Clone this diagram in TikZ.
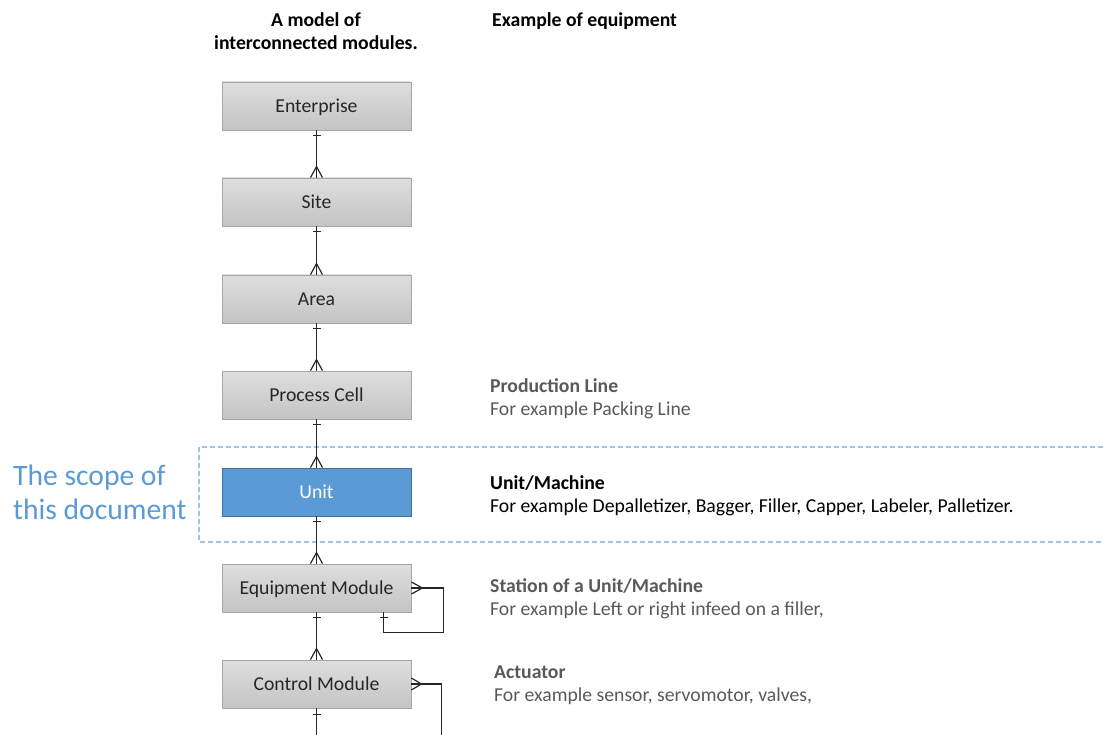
\documentclass[tikz,border=0pt]{standalone}
\usepackage{fontspec}
\setmainfont{Carlito}
\usetikzlibrary{calc}
\definecolor{boxedge}{HTML}{A6A6A6}
\definecolor{boxtop}{HTML}{DEDEDE}
\definecolor{boxbot}{HTML}{C4C4C4}
\definecolor{unitfill}{HTML}{5B9BD5}
\definecolor{unitedge}{HTML}{41719C}
\definecolor{scopeblue}{HTML}{5B9BD5}
\definecolor{scopedash}{HTML}{9DC3E6}
\definecolor{notegray}{HTML}{595959}
\definecolor{linkcol}{HTML}{262626}

% one-to-many link: bar near the parent, crow's foot at the child
\newcommand\modlink[2]{%
  \draw[conn] (#1.south) -- (#2.north);
  \draw[conn] ($(#1.south)+(-4,5)$) -- ++(8,0);
  \draw[conn] ($(#2.north)+(-6,0)$) -- ($(#2.north)+(0,-11)$) -- ($(#2.north)+(6,0)$);
}

\begin{document}
\begin{tikzpicture}[x=1pt,y=-1pt,
  module/.style={draw=boxedge, line width=0.8pt, top color=boxtop, bottom color=boxbot,
    minimum width=189pt, minimum height=48pt, inner sep=0pt,
    text height=12.7pt, text depth=0pt,
    font=\fontsize{19.7}{23}\selectfont, text=black!85},
  unitbox/.style={module, draw=unitedge, fill=unitfill, top color=unitfill, bottom color=unitfill,
    text=white},
  conn/.style={draw=linkcol, line width=1.2pt},
  head/.style={font=\fontsize{19.7}{23}\selectfont\bfseries, text=black, inner sep=0pt},
  note/.style={font=\fontsize{19.7}{23}\selectfont, inner sep=0pt, anchor=base west},
  notehead/.style={note, font=\fontsize{19.7}{23}\selectfont\bfseries},
  scope/.style={font=\fontsize{29.6}{35}\selectfont, text=scopeblue, inner sep=0pt, anchor=base west}
]
\clip (0,0) rectangle (1103,735);

% scope frame
\draw[scopedash, line width=1.2pt, dash pattern=on 5pt off 3pt] (199,447) rectangle (1120,542);

% column headings
\node[head, anchor=base] (h1a) at (316,27) {A model of};
\node[head, anchor=base] (h1b) at (316,50) {interconnected modules.};
\node[head, anchor=base west] (h2) at (492,27) {Example of equipment};

% hierarchy of modules
\node[module]  (ent)  at (316.5,106) {Enterprise};
\node[module]  (site) at (316.5,202) {Site};
\node[module]  (area) at (316.5,299) {Area};
\node[module]  (cell) at (316.5,395) {Process Cell};
\node[unitbox] (unit) at (316.5,492) {Unit};
\node[module]  (em)   at (316.5,588) {Equipment Module};
\node[module]  (cm)   at (316.5,684) {Control Module};

\modlink{ent}{site}
\modlink{site}{area}
\modlink{area}{cell}
\modlink{cell}{unit}
\modlink{unit}{em}
\modlink{em}{cm}

% equipment module refers back to itself
\coordinate (emret) at ($(em.south)+(67,0)$);
\draw[conn] (em.east) -- ++(32,0) -- ++(0,44.5) -| (emret);
\draw[conn] ($(em.east)+(0,-6)$) -- ++(11,6) -- ++(-11,6);
\draw[conn] ($(emret)+(-4,5)$) -- ++(8,0);

% control module links continue below
\coordinate (cmdown) at ($(cm.south)+(0,40)$);
\draw[conn] (cm.south) -- (cmdown);
\draw[conn] ($(cm.south)+(-4,6)$) -- ++(8,0);
\coordinate (cmloop) at ($(cm.east)+(30,60)$);
\draw[conn] (cm.east) -| (cmloop);
\draw[conn] ($(cm.east)+(0,-6)$) -- ++(10,6) -- ++(-10,6);

% scope label
\node[scope] (s1) at (13,485) {The scope of};
\node[scope] (s2) at (13,519) {this document};

% examples of equipment
\node[notehead, text=notegray] (n1a) at (490,392) {Production Line};
\node[note, text=notegray]     (n1b) at (490,415) {For example Packing Line};
\node[notehead, text=black]    (n2a) at (490,489) {Unit/Machine};
\node[note, text=black]        (n2b) at (490,512) {For example Depalletizer, Bagger, Filler, Capper, Labeler, Palletizer.};
\node[notehead, text=notegray] (n3a) at (490,592) {Station of a Unit/Machine};
\node[note, text=notegray]     (n3b) at (490,615) {For example Left or right infeed on a filler,};
\node[notehead, text=notegray] (n4a) at (494,678) {Actuator};
\node[note, text=notegray]     (n4b) at (494,701) {For example sensor, servomotor, valves,};
\end{tikzpicture}
\end{document}
